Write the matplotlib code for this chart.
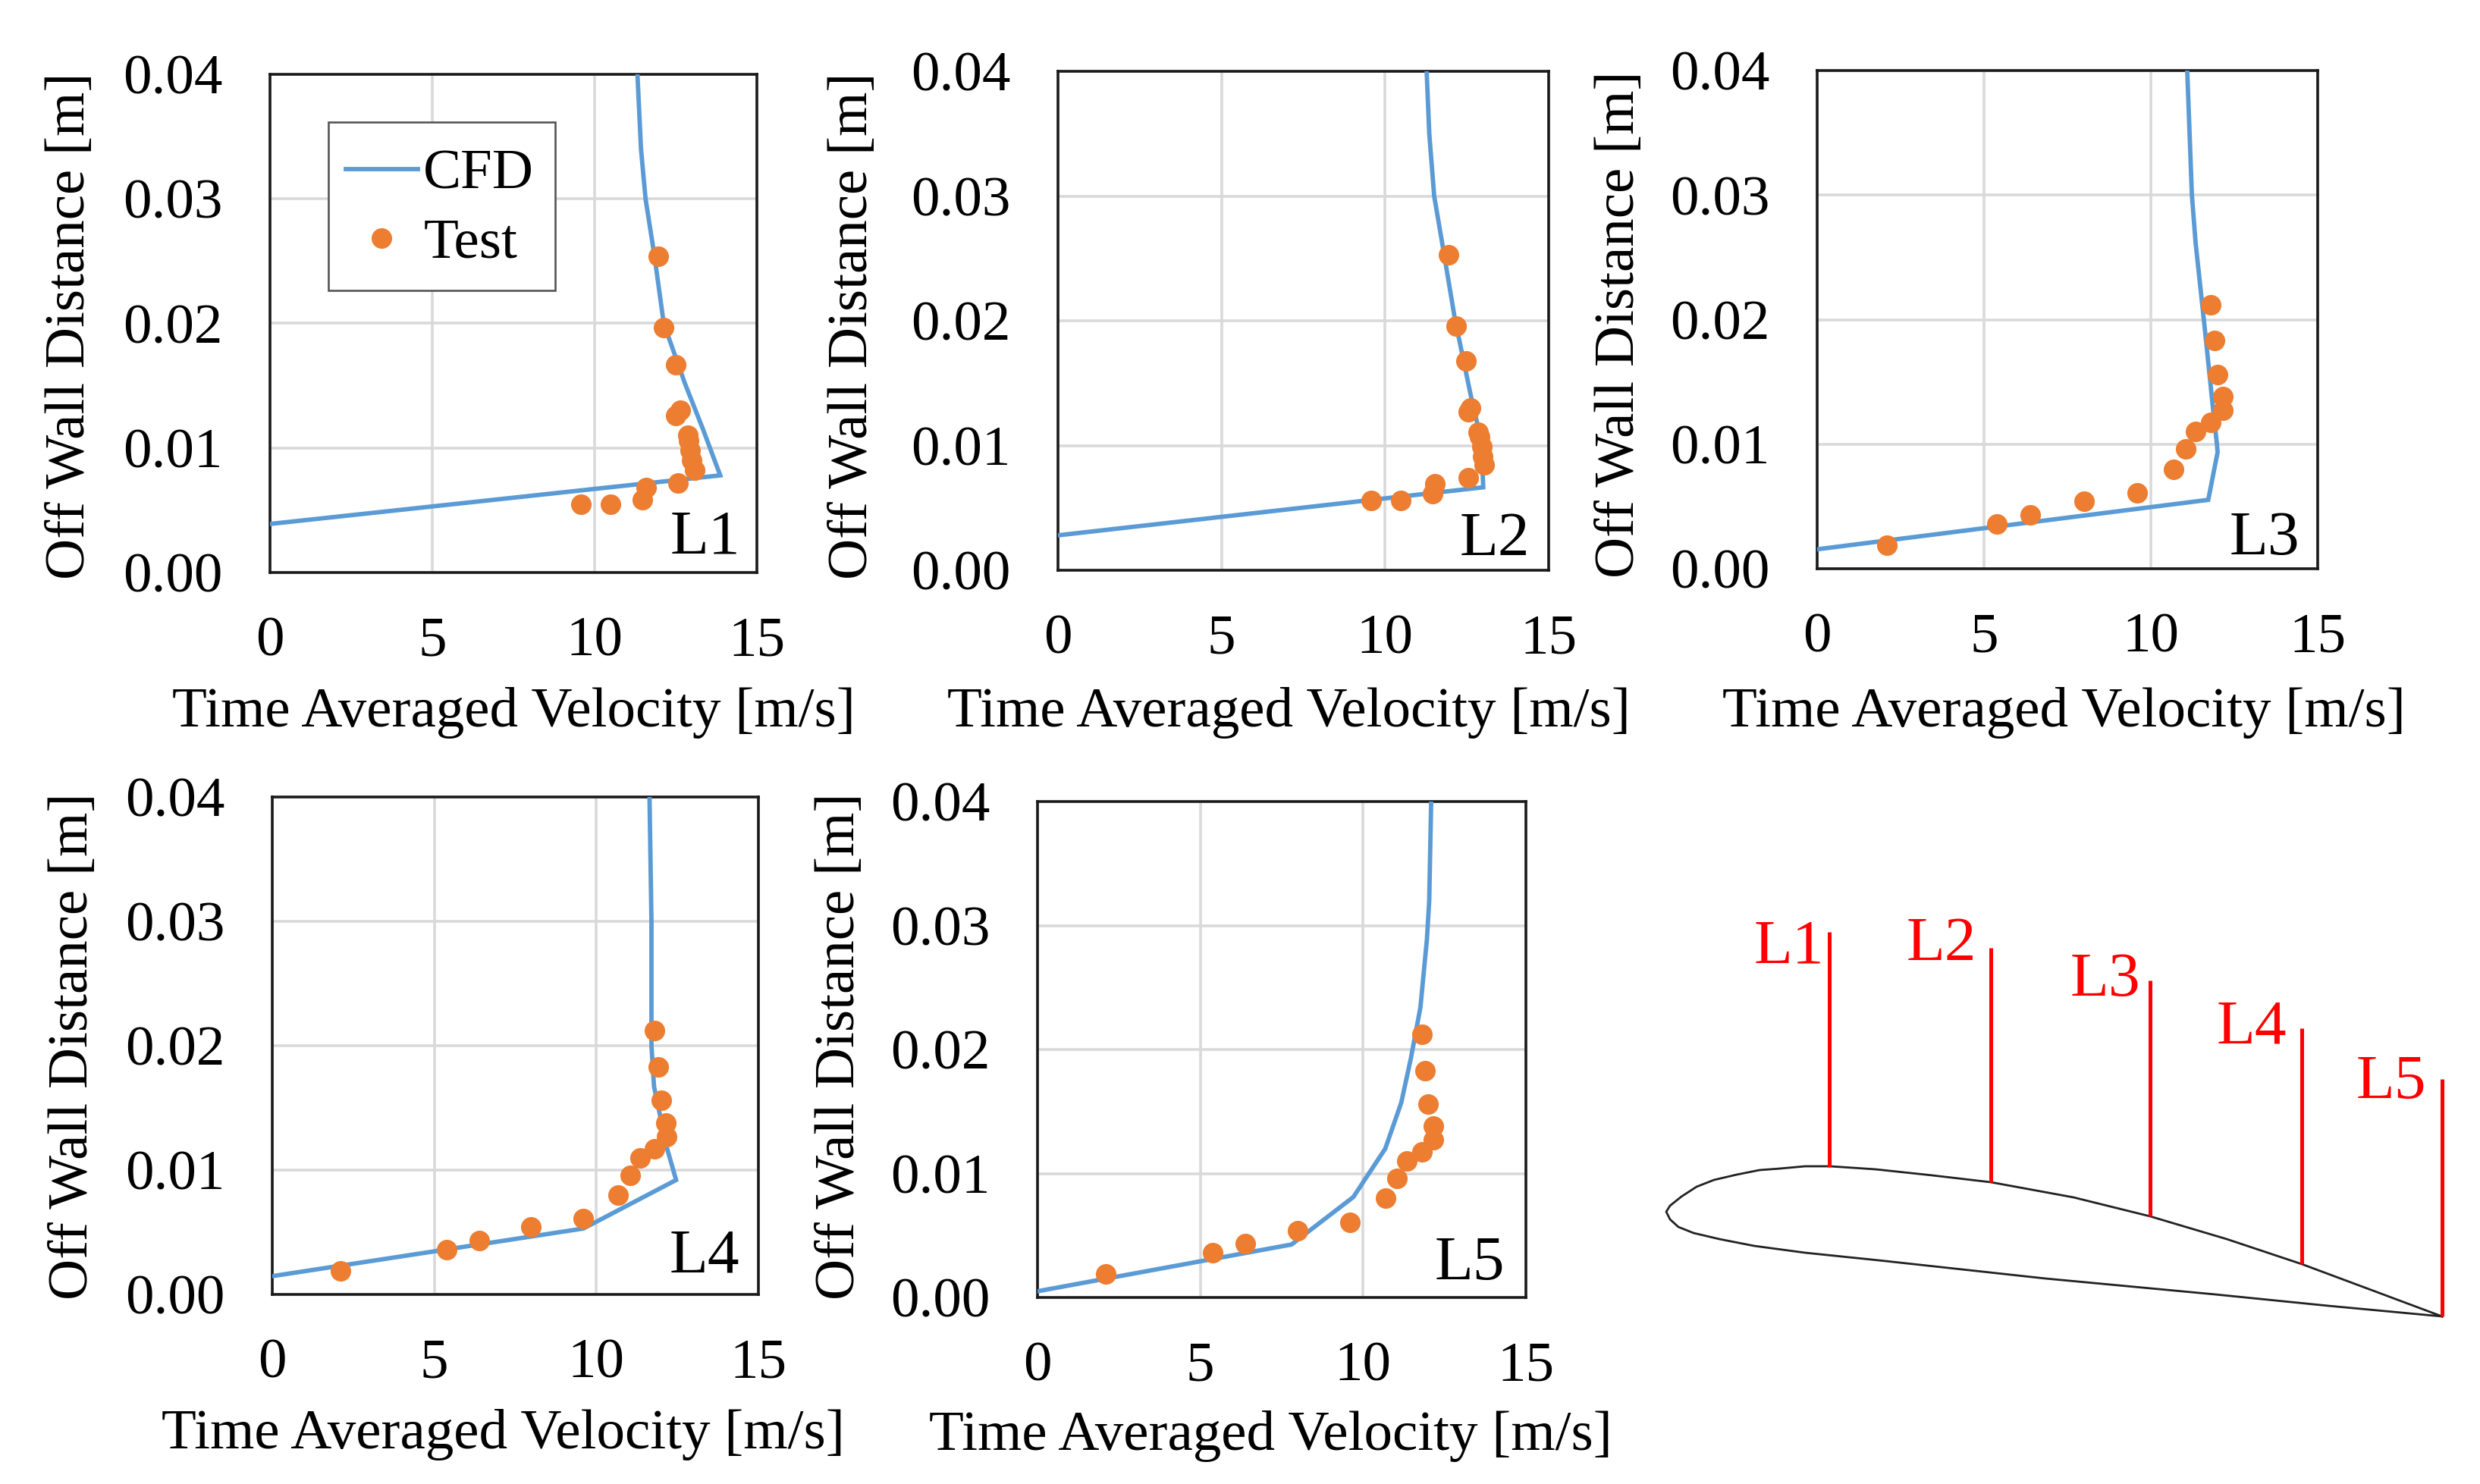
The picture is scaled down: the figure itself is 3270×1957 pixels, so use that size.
import matplotlib
matplotlib.use("Agg")
import matplotlib.pyplot as plt
from matplotlib.patches import Rectangle

plt.rcParams["font.family"] = ["Liberation Serif", "DejaVu Serif"]

W, H = 3270, 1957

# velocity [m/s] and off wall distance [mm]
l1_cfd_v = [0, 13.87, 13.34, 12.78, 12.13, 11.84, 11.57, 11.43, 11.32]
l1_cfd_y = [3.9, 7.8, 11.5, 15.2, 20.0, 25.5, 30.0, 34.0, 40.0]
l2_cfd_v = [0, 13.0, 12.97, 12.85, 12.62, 12.13, 11.74, 11.5, 11.35, 11.27]
l2_cfd_y = [2.8, 6.65, 8.5, 11.4, 14.0, 20.2, 26.3, 30.0, 35.0, 40.0]
l3_cfd_v = [0, 11.72, 12.0, 11.98, 11.85, 11.6, 11.34, 11.23, 11.09]
l3_cfd_y = [1.56, 5.53, 9.35, 10.0, 13.2, 19.7, 26.2, 30.0, 40.0]
l4_cfd_v = [0, 9.6, 12.46, 12.17, 11.78, 11.7, 11.7, 11.64]
l4_cfd_y = [1.47, 5.3, 9.2, 11.85, 16.7, 20.0, 30.0, 40.0]
l5_cfd_v = [0, 7.8, 9.7, 10.68, 11.17, 11.46, 11.76, 11.96, 12.03, 12.09]
l5_cfd_y = [0.5, 4.27, 8.1, 12.0, 15.7, 19.2, 23.4, 28.9, 32.0, 40.0]

l1_test_v = [9.59, 10.5, 11.48, 11.58, 12.56, 13.08, 13.0, 12.95, 12.9, 12.87, 12.5, 12.64, 12.5, 12.13, 11.97]
l1_test_y = [5.5, 5.5, 5.85, 6.8, 7.2, 8.2, 9.0, 9.8, 10.6, 11.0, 12.6, 13.0, 16.67, 19.66, 25.4]
l2_test_v = [9.57, 10.47, 11.46, 11.53, 12.54, 13.02, 12.98, 12.95, 12.9, 12.85, 12.54, 12.62, 12.47, 12.17, 11.94]
l2_test_y = [5.6, 5.6, 6.15, 6.96, 7.4, 8.44, 9.1, 9.9, 10.7, 11.07, 12.7, 13.0, 16.8, 19.6, 25.3]
# L3, L4 and L5 use the same measured profile
aft_test_v = [2.1, 5.39, 6.38, 7.99, 9.59, 10.68, 11.05, 11.34, 11.8, 12.17, 12.15, 12.0, 11.91, 11.8]
aft_test_y = [1.89, 3.6, 4.33, 5.4, 6.08, 8.0, 9.6, 11.0, 11.72, 12.7, 13.8, 15.6, 18.3, 21.2]

x_ticks = [0, 5, 10, 15]
y_ticks = [0.0, 0.01, 0.02, 0.03, 0.04]

# name, cfd, test, axes box (left, right, top, bottom), xlabel (x, y), ylabel (x, y), tag (left, baseline)
panels = [
    ("L1", l1_cfd_v, l1_cfd_y, l1_test_v, l1_test_y, (356, 998, 98, 755), (677, 940), (93, 430), (884, 730)),
    ("L2", l2_cfd_v, l2_cfd_y, l2_test_v, l2_test_y, (1395, 2042, 94, 752), (1699, 940), (1125, 430), (1925, 732)),
    ("L3", l3_cfd_v, l3_cfd_y, aft_test_v, aft_test_y, (2396, 3056, 93, 750), (2721, 940), (2136, 428), (2940, 731)),
    ("L4", l4_cfd_v, l4_cfd_y, aft_test_v, aft_test_y, (359, 1000, 1051, 1707), (663, 1892), (97, 1380), (883, 1677)),
    ("L5", l5_cfd_v, l5_cfd_y, aft_test_v, aft_test_y, (1368, 2012, 1057, 1711), (1675, 1894), (1108, 1380), (1892, 1687)),
]

# airfoil sketch, image pixels
airfoil_x = [3220, 3129, 3035, 2936, 2835, 2734, 2625, 2548, 2473, 2413, 2380, 2347, 2320, 2290, 2260, 2237, 2217,
             2202, 2197, 2202, 2213, 2233, 2267, 2313, 2380, 2477, 2697, 2921, 3070, 3220]
airfoil_y = [1736, 1702, 1667, 1634, 1604, 1579, 1559, 1550, 1542, 1538, 1538, 1541, 1543, 1549, 1556, 1565, 1578,
             1590, 1598, 1608, 1618, 1626, 1634, 1643, 1652, 1662, 1686, 1707, 1722, 1736]
station_names = ["L1", "L2", "L3", "L4", "L5"]
station_x = [2412, 2625, 2835, 3035, 3220]
station_top = [1229, 1250, 1293, 1356, 1423]
station_bottom = [1539, 1559, 1604, 1667, 1736]
station_label_x = [2313, 2514, 2730, 2923, 3107]
station_label_y = [1270, 1266, 1313, 1375, 1448]


def fx(x):
    return x / W


def fy(y):
    return 1 - y / H


fig = plt.figure(figsize=(W / 100, H / 100), dpi=100)

for name, cfd_v, cfd_y, test_v, test_y, box, xlab, ylab, tag in panels:
    left, right, top, bottom = box
    ax = fig.add_axes([fx(left), fy(bottom), (right - left) / W, (bottom - top) / H])
    ax.plot(cfd_v, [y / 1000 for y in cfd_y], color="#5B9BD5", lw=4.2, label="CFD", solid_joinstyle="miter", zorder=3)
    ax.plot(test_v, [y / 1000 for y in test_y], "o", color="#ED7D31", ms=19.5, mew=0, label="Test", zorder=4)
    ax.set_xlim(0, 15)
    ax.set_ylim(0, 0.04)
    ax.set_xticks(x_ticks)
    ax.set_yticks(y_ticks)
    ax.set_yticklabels(["%.2f" % t for t in y_ticks])
    ax.tick_params(axis="x", length=0, labelsize=54, pad=42)
    ax.tick_params(axis="y", length=0, labelsize=54, pad=45)
    ax.grid(color="#D9D9D9", lw=2.6)
    ax.set_axisbelow(True)
    for spine in ax.spines.values():
        spine.set_linewidth(2.6)
        spine.set_color("#1a1a1a")
    ax.set_xlabel("Time Averaged Velocity [m/s]", fontsize=54, va="center")
    ax.xaxis.set_label_coords(fx(xlab[0]), fy(xlab[1]), transform=fig.transFigure)
    ax.set_ylabel("Off Wall Distance [m]", fontsize=54, va="center", ha="center")
    ax.yaxis.set_label_coords(fx(ylab[0]), fy(ylab[1]), transform=fig.transFigure)
    fig.text(fx(tag[0]), fy(tag[1]), name, fontsize=60, ha="left", va="baseline", color="black")

    if name == "L1":
        ax.add_patch(Rectangle((fx(433), fy(383)), 299 / W, 222 / H, transform=fig.transFigure,
                               fc="white", ec="#555555", lw=1.9, zorder=5))
        leg = ax.legend(loc="center left", bbox_to_anchor=(fx(433), fy(276)), bbox_transform=fig.transFigure,
                        frameon=False, fontsize=54, handlelength=1.27, handletextpad=0.1, labelspacing=0.3,
                        borderpad=0, borderaxespad=0.3)
        leg.set_zorder(6)

# airfoil and stations drawn on a full figure overlay
sketch = fig.add_axes([0, 0, 1, 1], facecolor="none")
sketch.set_xlim(0, W)
sketch.set_ylim(H, 0)
sketch.axis("off")
sketch.plot(airfoil_x, airfoil_y, color="#222222", lw=2.0)
sketch.vlines(station_x, station_top, station_bottom, color="red", lw=3.6)
for label, lx, ly in zip(station_names, station_label_x, station_label_y):
    sketch.text(lx, ly, label, color="red", fontsize=60, ha="left", va="baseline")

fig.savefig("out.png", dpi=100)
